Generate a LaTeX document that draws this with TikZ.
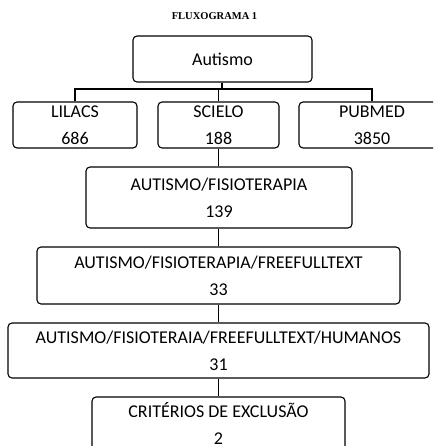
\documentclass[tikz,border=0pt]{standalone}
\usepackage{fontspec}
\setmainfont{Carlito}
\newfontfamily\titlefont{Liberation Serif}
\begin{document}
\begin{tikzpicture}[x=1pt,y=-1pt,line width=1.1pt,
  caixa/.style={draw,rounded corners=4pt,inner sep=0pt,align=center,
    font=\fontsize{18}{27}\selectfont}]
\useasboundingbox (0,0) rectangle (433,446);
\clip (0,0) rectangle (433,446);
\node[font=\titlefont\bfseries\fontsize{10.5}{12}\selectfont] (titulo) at (214.5,16.5) {FLUXOGRAMA 1};
\node[caixa,minimum width=179pt,minimum height=46pt] (autismo) at (222.5,59) {Autismo};
\node[caixa,minimum width=124pt,minimum height=46pt] (lilacs) at (75,125) {LILACS\\686};
\node[caixa,minimum width=121pt,minimum height=46pt] (scielo) at (218.5,125) {SCIELO\\188};
\node[caixa,minimum width=146pt,minimum height=46pt] (pubmed) at (372,125) {PUBMED\\3850};
\node[caixa,minimum width=266pt,minimum height=61pt] (fisio) at (219,197.5) {AUTISMO/FISIOTERAPIA\\139};
\node[caixa,minimum width=363pt,minimum height=57pt] (free) at (218.5,275.5) {AUTISMO/FISIOTERAPIA/FREEFULLTEXT\\33};
\node[caixa,minimum width=421pt,minimum height=55pt] (humanos) at (218.5,350.5) {AUTISMO/FISIOTERAIA/FREEFULLTEXT/HUMANOS\\31};
\node[caixa,minimum width=253pt,minimum height=53pt] (exclusao) at (218.5,423.5) {CRITÉRIOS DE EXCLUSÃO\\2};
% ligacoes
\coordinate (barra) at (222,89);
\draw (autismo.south -| barra) -- (barra);
\draw (lilacs.north) |- (barra) -| (pubmed.north);
\draw (scielo.north) -- (scielo.north |- barra);
\draw (scielo.south) -- (fisio.north -| scielo.south);
\draw (fisio.south -| scielo.south) -- (free.north -| scielo.south);
\draw (free.south -| scielo.south) -- (humanos.north -| scielo.south);
\draw (humanos.south -| scielo.south) -- (exclusao.north -| scielo.south);
\end{tikzpicture}
\end{document}
